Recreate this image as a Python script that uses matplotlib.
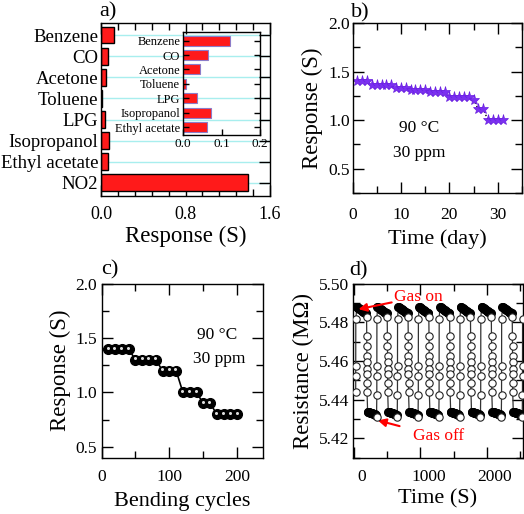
import matplotlib
matplotlib.use('Agg')
import matplotlib.pyplot as plt
import matplotlib.transforms as mtransforms
from matplotlib.ticker import MultipleLocator

plt.rcParams['font.family'] = ['Liberation Serif', 'DejaVu Serif']
plt.rcParams['axes.linewidth'] = 1.0

# ---------------- data ----------------
gases = ['Benzene', 'CO', 'Acetone', 'Toluene', 'LPG', 'Isopropanol', 'Ethyl acetate', 'NO2']
response_all = [0.12, 0.063, 0.046, 0.008, 0.037, 0.075, 0.063, 1.39]
inset_gases = ['Benzene', 'CO', 'Acetone', 'Toluene', 'LPG', 'Isopropanol', 'Ethyl acetate']
inset_resp = [0.122, 0.064, 0.044, 0.0085, 0.037, 0.074, 0.062]

days = list(range(1, 32))
stability = [1.40, 1.40, 1.40, 1.36, 1.36, 1.36, 1.36, 1.36, 1.33, 1.33, 1.33,
             1.31, 1.31, 1.31, 1.31, 1.29, 1.29, 1.29, 1.29, 1.24, 1.24, 1.24,
             1.24, 1.24, 1.21, 1.11, 1.11, 1.00, 1.00, 1.00, 1.00]

cycles = [10, 20, 30, 40, 50, 60, 70, 80, 90, 100, 110, 120, 130, 140, 150,
          160, 170, 180, 190, 200]
bend_resp = [1.4, 1.4, 1.4, 1.4, 1.3, 1.3, 1.3, 1.3, 1.2, 1.2, 1.2, 1.0, 1.0, 1.0,
             0.9, 0.9, 0.8, 0.8, 0.8, 0.8]

# panel d: gas-on times (s) of each cycle and one-cycle shape
gas_on_times = [195, 505, 818, 1130, 1442, 1755, 2068, 2382]
start_rise_t = [28, 28.5, 29, 29.5]
start_rise_r = [5.4440, 5.4525, 5.4576, 5.4815]
top_dt = [-150, -140, -130, -120, -110, -100, -90, -80, -70, -60, -50, -40, -30, -20, -12]
top_r = [5.4881, 5.4878, 5.4876, 5.4873, 5.4871, 5.4868, 5.4866, 5.4863, 5.4861,
         5.4858, 5.4856, 5.4853, 5.4851, 5.4848, 5.4846]
top_end_dt, top_end_r = -4, 5.4829
fall_dt = [0, 0.5, 1, 1.5, 2, 2.5, 3, 3.5]
fall_r = [5.4729, 5.4678, 5.4627, 5.4593, 5.4559, 5.4534, 5.4485, 5.4440]
bot_dt = [12, 21, 30, 39, 48, 57, 66, 75, 84, 93, 102, 111, 120, 129, 138]
bot_r = [5.4338, 5.4337, 5.4336, 5.4334, 5.4333, 5.4332, 5.4331, 5.4330, 5.4329,
         5.4327, 5.4326, 5.4325, 5.4324, 5.4322, 5.4321]
bot_end_dt, bot_end_r = 146, 5.4312
rise_dt = [150, 150.5, 151, 151.5]
rise_r = [5.4424, 5.4525, 5.4576, 5.4815]

# ---------------- figure ----------------
W, H = 524, 514
fig = plt.figure(figsize=(W / 100, H / 100), dpi=100)


def rect(l, r, t, b):
    return [l / W, 1 - b / H, (r - l) / W, (b - t) / H]


def style(ax, size=12.5, xpad=8.0, ypad=2.5):
    ax.tick_params(which='both', direction='in', top=True, right=True,
                   labelsize=size, width=1)
    ax.tick_params(which='major', length=8)
    ax.tick_params(which='minor', length=5)
    ax.tick_params(axis='x', which='both', pad=xpad)
    ax.tick_params(axis='y', which='both', pad=ypad)


red = '#ff1a1a'

# ---- panel a ----
axa = fig.add_axes(rect(101, 270, 23, 196))
ya = list(range(len(gases)))
axa.set_axisbelow(True)
axa.grid(axis='y', color='#a8eeee', lw=1)
axa.barh(ya, response_all, height=0.8, color=red, edgecolor='black', lw=1, zorder=2)
axa.set_xlim(0, 1.6)
axa.set_ylim(7.62, -0.57)
axa.set_yticks(ya)
axa.set_yticklabels(gases)
axa.set_xticks([0, 0.8, 1.6])
axa.set_xticklabels(['0.0', '0.8', '1.6'])
axa.xaxis.set_minor_locator(MultipleLocator(0.16))
style(axa, 13, xpad=7.0, ypad=2.0)
axa.tick_params(axis='y', labelsize=13.5, left=False)
axa.set_xlabel('Response (S)', fontsize=16.5, labelpad=2)

axi = fig.add_axes(rect(183, 260, 32, 135))
axi.patch.set_alpha(0)
yi = list(range(len(inset_gases)))
axi.barh(yi, inset_resp, height=0.7, color=red, edgecolor='#8c7cc8', lw=0.8)
axi.set_xlim(0, 0.2)
axi.set_ylim(6.55, -0.6)
axi.set_yticks(yi)
axi.set_yticklabels(inset_gases)
axi.set_xticks([0, 0.1, 0.2])
axi.set_xticklabels(['0.0', '0.1', '0.2'])
axi.tick_params(which='both', direction='in', labelsize=9.5, length=4, width=1,
                right=True, pad=2)
axi.tick_params(axis='y', labelsize=9)

# ---- panel b ----
axb = fig.add_axes(rect(352.5, 522, 23, 193))
axb.plot(days, stability, ls=':', color='black', lw=1, marker='*',
         markersize=8, markerfacecolor='#7b2ff2', markeredgecolor='#6a20e0',
         markeredgewidth=0.5)
axb.set_xlim(0, 35)
axb.set_ylim(0.25, 2.0)
axb.set_xticks([0, 10, 20, 30])
axb.xaxis.set_minor_locator(MultipleLocator(5))
axb.set_yticks([0.5, 1.0, 1.5, 2.0])
axb.set_yticklabels(['0.5', '1.0', '1.5', '2.0'])
axb.yaxis.set_minor_locator(MultipleLocator(0.25))
style(axb, xpad=10.0, ypad=2.0)
axb.set_xlabel('Time (day)', fontsize=16, labelpad=4.5)
axb.set_ylabel('Response (S)', fontsize=16.5, labelpad=4)
axb.text(13.7, 0.92, '90 °C', ha='center', va='center', fontsize=12.5)
axb.text(13.7, 0.665, '30 ppm', ha='center', va='center', fontsize=12.5)

# ---- panel c ----
axc = fig.add_axes(rect(101.5, 263, 283.7, 457.7))
axc.plot(cycles, bend_resp, color='black', lw=1.2, marker='o', markersize=7,
         markerfacecolor='black', markeredgecolor='black')
hl = mtransforms.offset_copy(axc.transData, fig=fig, x=-0.5, y=1.0, units='points')
axc.plot(cycles, bend_resp, ls='none', marker='o', markersize=2.2,
         markerfacecolor='#dddddd', markeredgecolor='none', transform=hl)
axc.set_xlim(0, 238)
axc.set_ylim(0.4, 2.0)
axc.set_xticks([0, 100, 200])
axc.xaxis.set_minor_locator(MultipleLocator(50))
axc.set_yticks([0.5, 1.0, 1.5, 2.0])
axc.set_yticklabels(['0.5', '1.0', '1.5', '2.0'])
axc.yaxis.set_minor_locator(MultipleLocator(0.25))
style(axc, xpad=8.2, ypad=3.5)
axc.set_xlabel('Bending cycles', fontsize=16, labelpad=5)
axc.set_ylabel('Response (S)', fontsize=16.5, labelpad=3)
axc.text(170, 1.53, '90 °C', ha='center', va='center', fontsize=12.5)
axc.text(174, 1.31, '30 ppm', ha='center', va='center', fontsize=12.5)

# ---- panel d ----
axd = fig.add_axes(rect(352.5, 523, 283.7, 457.7))
t_all, r_all = list(start_rise_t), list(start_rise_r)
t_open, r_open = list(start_rise_t), list(start_rise_r)
t_fill, r_fill = [], []
for t0 in gas_on_times:
    tt = [t0 + d for d in top_dt]
    t_all += tt; r_all += top_r; t_fill += tt; r_fill += top_r
    t_all.append(t0 + top_end_dt); r_all.append(top_end_r)
    t_open.append(t0 + top_end_dt); r_open.append(top_end_r)
    tf = [t0 + d for d in fall_dt]
    t_all += tf; r_all += fall_r; t_open += tf; r_open += fall_r
    tb = [t0 + d for d in bot_dt]
    t_all += tb; r_all += bot_r; t_fill += tb; r_fill += bot_r
    t_all.append(t0 + bot_end_dt); r_all.append(bot_end_r)
    t_open.append(t0 + bot_end_dt); r_open.append(bot_end_r)
    tr = [t0 + d for d in rise_dt]
    t_all += tr; r_all += rise_r; t_open += tr; r_open += rise_r

axd.plot(t_all, r_all, color='#333333', lw=0.9, zorder=2)
axd.plot(t_fill, r_fill, ls='none', marker='o', markersize=5.5,
         markerfacecolor='black', markeredgecolor='black', zorder=3)
axd.plot(t_open, r_open, ls='none', marker='o', markersize=5.3,
         markerfacecolor='white', markeredgecolor='#222222', markeredgewidth=0.8,
         zorder=4)
axd.set_xlim(-20, 2540)
axd.set_ylim(5.41, 5.50)
axd.set_xticks([0, 1000, 2000])
axd.xaxis.set_minor_locator(MultipleLocator(500))
axd.set_yticks([5.42, 5.44, 5.46, 5.48, 5.50])
axd.set_yticklabels(['5.42', '5.44', '5.46', '5.48', '5.50'])
axd.yaxis.set_minor_locator(MultipleLocator(0.01))
style(axd, xpad=8.2, ypad=2.5)
off = mtransforms.ScaledTranslation(8 / 100, 0, fig.dpi_scale_trans)
for lab in axd.get_xticklabels():
    lab.set_transform(lab.get_transform() + off)
axd.set_xlabel('Time (S)', fontsize=16, labelpad=3)
axd.set_ylabel('Resistance (MΩ)', fontsize=16.5, labelpad=3)
axd.annotate('Gas on', xy=(70, 5.4868), xytext=(610, 5.4932), color='red',
             fontsize=12.5, ha='left', va='center',
             arrowprops=dict(arrowstyle='-|>', color='red', lw=1.5,
                             shrinkA=0, shrinkB=0, mutation_scale=12))
axd.annotate('Gas off', xy=(360, 5.4293), xytext=(890, 5.4210), color='red',
             fontsize=12.5, ha='left', va='center',
             arrowprops=dict(arrowstyle='-|>', color='red', lw=1.5,
                             shrinkA=8, shrinkB=0, mutation_scale=12))

# panel letters
for s, x, y in [('a)', 108, 12), ('b)', 360, 13), ('c)', 110, 270), ('d)', 359, 271)]:
    fig.text(x / W, 1 - y / H, s, ha='center', va='center', fontsize=16)

fig.savefig('out.png', dpi=100)
